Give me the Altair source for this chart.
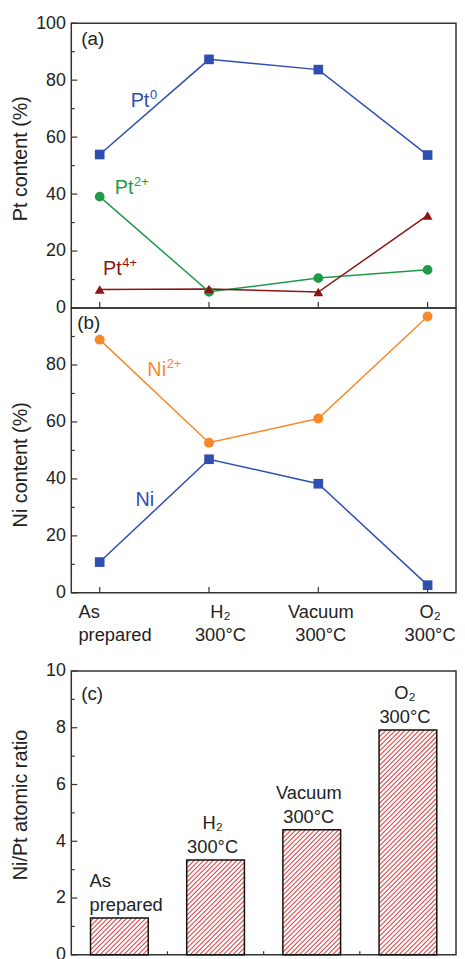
import math
import altair as alt
import pandas as pd

# ---------------- data ----------------
categories = ["As prepared", "H₂ 300°C", "Vacuum 300°C", "O₂ 300°C"]
cat_lines = [["As", "prepared"], ["H₂", "300°C"], ["Vacuum", "300°C"], ["O₂", "300°C"]]

pt_series = ["Pt0", "Pt2+", "Pt4+"]
pt0 = [53.9, 87.3, 83.7, 53.7]
pt2 = [39.1, 5.7, 10.5, 13.4]
pt4 = [6.5, 6.7, 5.6, 32.5]

ni_series = ["Ni2+", "Ni"]
ni2 = [88.9, 52.7, 61.2, 97.0]
ni0 = [10.8, 46.9, 38.3, 2.7]

ratio = [1.30, 3.34, 4.41, 7.92]

pt_label_base = ["Pt", "Pt", "Pt"]
pt_label_sup = ["0", "2+", "4+"]
pt_label_x = [0.283, 0.138, 0.030]
pt_label_y = [70.5, 39.9, 11.5]

ni_label_base = ["Ni", "Ni"]
ni_label_sup = ["2+", ""]
ni_label_x = [0.436, 0.328]
ni_label_y = [76.0, 30.6]

pct_major = [0, 20, 40, 60, 80, 100]
pct_minor = [10, 30, 50, 70, 90]
ratio_major = [0, 2, 4, 6, 8, 10]
ratio_minor = [1, 3, 5, 7, 9]
x_major = [0, 1, 2, 3]
x_minor_c = [0.5, 1.5, 2.5]

# ---------------- style ----------------
BLUE = "#2f4fb0"
GREEN = "#1f9a48"
DRED = "#8c1414"
ORANGE = "#f7892b"
pt_colors = [BLUE, GREEN, DRED]
pt_shapes = ["square", "circle", "triangle-up"]
pt_sizes = [95, 100, 150]
ni_colors = [ORANGE, BLUE]
ni_shapes = ["circle", "square"]
ni_sizes = [100, 95]

FONT = "Liberation Sans"
INK = "#222222"
FRAME = "#333333"
W, H, HC = 389, 288, 287
TICK_MAJ, TICK_MIN = 6, 3.5


def tick_layers(xscale, xaxis, yscale, yaxis, ytitle, ymaj, ymin, xmaj, xmin, height):
    xdef = lambda f: alt.X(f, scale=xscale, axis=xaxis, title=None)
    ydef = lambda f: alt.Y(f, scale=yscale, axis=yaxis, title=ytitle)
    layers = [
        alt.Chart(pd.DataFrame({"tv": ymaj})).mark_rule(color=FRAME, strokeWidth=1.2)
        .encode(y=ydef("tv:Q"), x=alt.value(0), x2=alt.value(TICK_MAJ)),
        alt.Chart(pd.DataFrame({"tv": ymin})).mark_rule(color=FRAME, strokeWidth=1.2)
        .encode(y=ydef("tv:Q"), x=alt.value(0), x2=alt.value(TICK_MIN)),
        alt.Chart(pd.DataFrame({"tx": xmaj})).mark_rule(color=FRAME, strokeWidth=1.2)
        .encode(x=xdef("tx:Q"), y=alt.value(height), y2=alt.value(height - TICK_MAJ)),
    ]
    if xmin:
        layers.append(
            alt.Chart(pd.DataFrame({"tx": xmin})).mark_rule(color=FRAME, strokeWidth=1.2)
            .encode(x=xdef("tx:Q"), y=alt.value(height), y2=alt.value(height - TICK_MIN))
        )
    return layers


def line_panel(key, series_names, values_list, colors, shapes, sizes, lab_base, lab_sup, lab_x, lab_y,
               title, y_values, tag, tag_x, tag_y, title_y, show_x_labels):
    sfield = "s_" + key
    rows = []
    for name, vals in zip(series_names, values_list):
        for i, v in enumerate(vals):
            rows.append({"idx": i, "val": v, sfield: name})
    df = pd.DataFrame(rows)
    ann = pd.DataFrame({"idx": lab_x, "val": lab_y, sfield: series_names,
                        "base": lab_base, "sup": lab_sup})

    xscale = alt.Scale(domain=[-0.26, 3.26], nice=False, zero=False)
    yscale = alt.Scale(domain=[0, 100], nice=False, zero=False)
    if show_x_labels:
        expr = "[" + ",".join("[" + ",".join("'%s'" % s for s in ln) + "]" for ln in cat_lines) + "][datum.value]"
        x_axis = alt.Axis(values=x_major, labelExpr=expr, labelPadding=10, labelFontSize=18.5,
                          labelLineHeight=23.5, labelBaseline="top", labelFlush=False,
                          labelAlign={"condition": {"test": "datum.value == 0", "value": "left"}, "value": "center"},
                          labelOffset={"condition": [{"test": "datum.value == 0", "value": -22},
                                                     {"test": "datum.value == 1", "value": 11}], "value": 2})
    else:
        x_axis = None
    yaxis = alt.Axis(values=y_values, labelPadding=6, titleX=-41, titleY=title_y)
    x = alt.X("idx:Q", scale=xscale, axis=x_axis, title=None)
    y = alt.Y("val:Q", scale=yscale, axis=yaxis, title=title)
    color = alt.Color(sfield + ":N", scale=alt.Scale(domain=series_names, range=colors), legend=None)
    shape = alt.Shape(sfield + ":N", scale=alt.Scale(domain=series_names, range=shapes), legend=None)
    size = alt.Size(sfield + ":N", scale=alt.Scale(domain=series_names, range=sizes), legend=None)

    lines = alt.Chart(df).mark_line(strokeWidth=1.5).encode(x=x, y=y, color=color)
    points = alt.Chart(df).mark_point(filled=True, opacity=1).encode(
        x=x, y=y, color=color, shape=shape, size=size)
    txt = alt.Chart(ann).mark_text(align="left", baseline="alphabetic", fontSize=20).encode(
        x=x, y=y, color=color, text="base:N")
    sup = alt.Chart(ann).mark_text(align="left", baseline="alphabetic", fontSize=13, dx=19.5, dy=-8).encode(
        x=x, y=y, color=color, text="sup:N")
    tagc = alt.Chart(pd.DataFrame({"tag": [tag]})).mark_text(
        align="left", baseline="alphabetic", fontSize=19, color=INK).encode(
        x=alt.value(tag_x), y=alt.value(tag_y), text="tag:N")
    ticks = tick_layers(xscale, x_axis, yscale, yaxis, title, pct_major, pct_minor, x_major, None, H)
    return alt.layer(*ticks, lines, points, txt, sup, tagc).properties(width=W, height=H)


panel_a = line_panel("pt", pt_series, [pt0, pt2, pt4], pt_colors, pt_shapes, pt_sizes, pt_label_base,
                     pt_label_sup, pt_label_x, pt_label_y, "Pt content (%)", pct_major, "(a)", 10, 22, 136.5, False)
panel_b = line_panel("ni", ni_series, [ni2, ni0], ni_colors, ni_shapes, ni_sizes, ni_label_base,
                     ni_label_sup, ni_label_x, ni_label_y, "Ni content (%)", pct_major[:-1], "(b)", 6, 21, 158, True)

# ---------------- panel c ----------------
half = 0.3
bars = pd.DataFrame({
    "idx": list(range(len(ratio))),
    "lo": [i - half for i in range(len(ratio))],
    "hi": [i + half for i in range(len(ratio))],
    "val": ratio,
    "base": [0.0] * len(ratio),
    "label": ["\n".join(ln) for ln in cat_lines],
})
xlo, xhi = -0.5, 3.5
kx = W / (xhi - xlo)
ky = HC / 10.0
d = 4.8
hrows = []
for i, v in enumerate(ratio):
    x0 = (i - half - xlo) * kx
    x1 = (i + half - xlo) * kx
    y0, y1 = 0.0, v * ky
    n0 = math.ceil((x0 - y1) / d)
    n1 = math.floor((x1 - y0) / d)
    for n in range(n0, n1 + 1):
        c = n * d
        ys = max(y0, x0 - c)
        ye = min(y1, x1 - c)
        if ye - ys > 0.3:
            hrows.append({"hx": (ys + c) / kx + xlo, "hy": ys / ky,
                          "hx2": (ye + c) / kx + xlo, "hy2": ye / ky})
hatch = pd.DataFrame(hrows)

cx = alt.Scale(domain=[xlo, xhi], nice=False, zero=False)
cy = alt.Scale(domain=[0, 10], nice=False, zero=False)
caxis = alt.Axis(values=ratio_major, labelPadding=6, titleX=-41, titleY=135)
CT = "Ni/Pt atomic ratio"
X = lambda f: alt.X(f, scale=cx, axis=None, title=None)
Y = lambda f: alt.Y(f, scale=cy, axis=caxis, title=CT)
LH = 24

bar_fill = alt.Chart(bars).mark_rect(fill="white").encode(x=X("lo:Q"), x2="hi:Q", y=Y("val:Q"), y2="base:Q")
hatch_l = alt.Chart(hatch).mark_rule(color="#e0474a", strokeWidth=1.1).encode(
    x=X("hx:Q"), y=Y("hy:Q"), x2="hx2:Q", y2="hy2:Q")
bar_edge = alt.Chart(bars).mark_rect(fill=None, stroke="#111111", strokeWidth=1.5).encode(
    x=X("lo:Q"), x2="hi:Q", y=Y("val:Q"), y2="base:Q")
lab_first = alt.Chart(bars).transform_filter("datum.idx == 0").mark_text(
    align="left", baseline="bottom", fontSize=18.5, lineBreak="\n", lineHeight=LH, dy=-3 - LH, dx=-1,
    color=INK).encode(x=X("lo:Q"), y=Y("val:Q"), text="label:N")
lab_rest = alt.Chart(bars).transform_filter("datum.idx > 0").mark_text(
    align="center", baseline="bottom", fontSize=18.5, lineBreak="\n", lineHeight=LH, dy=-3 - LH, dx=-3,
    color=INK).encode(x=X("idx:Q"), y=Y("val:Q"), text="label:N")
tag_c = alt.Chart(pd.DataFrame({"tag": ["(c)"]})).mark_text(
    align="left", baseline="alphabetic", fontSize=19, color=INK).encode(
    x=alt.value(10), y=alt.value(29), text="tag:N")
ticks_c = tick_layers(cx, None, cy, caxis, CT, ratio_major, ratio_minor, x_major, x_minor_c, HC)
panel_c = alt.layer(*ticks_c, bar_fill, hatch_l, bar_edge, lab_first, lab_rest, tag_c).properties(width=W, height=HC)

top = alt.vconcat(panel_a, panel_b, spacing=0, bounds="flush").resolve_scale(
    color="independent", shape="independent", size="independent")
chart = alt.vconcat(top, panel_c, spacing=16).resolve_scale(
    color="independent", shape="independent", size="independent"
).configure_view(
    stroke=FRAME, strokeWidth=1.5
).configure_axis(
    labelFont=FONT, titleFont=FONT, labelFontSize=18, titleFontSize=20, labelColor=INK,
    titleColor=INK, titleFontWeight="normal", grid=False, domain=False, ticks=False
).configure_text(font=FONT).properties(
    padding={"left": 2, "top": 0, "right": 0, "bottom": 0}
)

chart.save("out.html", embed_options={"renderer": "svg", "actions": False})
